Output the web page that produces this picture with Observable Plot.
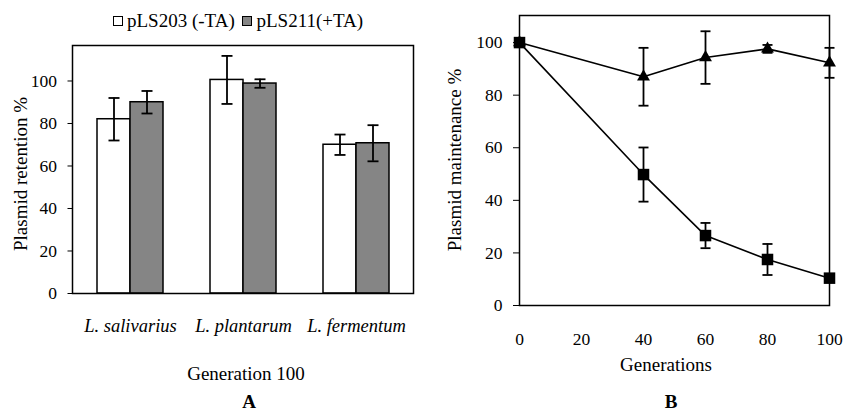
<!DOCTYPE html>
<html>
<head>
<meta charset="utf-8">
<script src="https://cdn.jsdelivr.net/npm/d3@7"></script>
<script src="https://cdn.jsdelivr.net/npm/@observablehq/plot@0.6"></script>
<style>
  html, body { margin: 0; padding: 0; background: #fff; }
  #wrap { position: relative; width: 844px; height: 411px; font-family: "Liberation Serif", "Times New Roman", serif; color: #000; overflow: hidden; }
  #pa, #pb { position: absolute; top: 0; }
  #pa { left: 0; }
  #pb { left: 425px; }
  #pa svg text, #pb svg text { font-family: "Liberation Serif", "Times New Roman", serif !important; font-size: 17.5px !important; fill: #000; }
  #pa [aria-label^="x-axis"] text { font-style: italic; font-size: 18.5px !important; }
  .lbl { position: absolute; font-size: 19px; white-space: nowrap; transform: translate(-50%, -50%); line-height: 1; }
  .rot { transform: translate(-50%, -50%) rotate(-90deg); }
  .big { font-weight: bold; }
  #legend { position: absolute; left: 113px; top: 11px; font-size: 19px; line-height: 20px; white-space: nowrap; }
  .sw { display: inline-block; width: 8px; height: 8px; border: 1px solid #000; margin-right: 4px; vertical-align: 1px; }
</style>
</head>
<body>
<div id="wrap">
  <div id="pa"></div>
  <div id="pb"></div>
  <div id="legend"><span class="sw" style="background:#fff"></span>pLS203 (-TA) <span class="sw" style="background:#858585;margin-left:3px"></span>pLS211(+TA)</div>
  <div class="lbl rot" style="left:20px; top:174px;">Plasmid retention %</div>
  <div class="lbl" style="left:246px; top:373px;">Generation 100</div>
  <div class="lbl big" style="left:249px; top:401px;">A</div>
  <div class="lbl rot" style="left:454px; top:160px;">Plasmid maintenance %</div>
  <div class="lbl" style="left:666px; top:364px;">Generations</div>
  <div class="lbl big" style="left:671px; top:401px;">B</div>
</div>
<script>
// ---- Panel A data ----
const categories = ["L. salivarius", "L. plantarum", "L. fermentum"];
const seriesA = ["pLS203 (-TA)", "pLS211(+TA)"];
const retentionMinusTA = [82, 100.5, 70];
const retentionMinusTAErr = [10, 11.3, 4.8];
const retentionPlusTA = [90, 98.8, 70.7];
const retentionPlusTAErr = [5.3, 2, 8.5];
const yTicksA = [0, 20, 40, 60, 80, 100];

// ---- Panel B data ----
const generations = [0, 40, 60, 80, 100];
const maintPlusTA = [100, 87, 94.3, 97.6, 92.3];
const maintPlusTAErr = [0, 11, 10, 1.5, 5.7];
const maintMinusTA = [100, 49.8, 26.6, 17.5, 10.4];
const maintMinusTAErr = [0, 10.3, 4.8, 5.9, 0];
const xTicksB = [0, 20, 40, 60, 80, 100];
const yTicksB = [0, 20, 40, 60, 80, 100];

const capSymbol = {
  draw(context, size) {
    const w = Math.sqrt(size / Math.PI);
    context.moveTo(-w, 0);
    context.lineTo(w, 0);
  }
};

const baseStyle = {fontFamily: "Liberation Serif, Times New Roman, serif", fontSize: "17.5px", color: "#000", background: "transparent", overflow: "visible"};
const ew = 1.8;

// Panel A
const rowsA = [];
categories.forEach((c, i) => {
  rowsA.push({cat: c, series: seriesA[0], v: retentionMinusTA[i], e: retentionMinusTAErr[i]});
  rowsA.push({cat: c, series: seriesA[1], v: retentionPlusTA[i], e: retentionPlusTAErr[i]});
});
const whiteRows = rowsA.filter(d => d.series === seriesA[0]);
const greyRows = rowsA.filter(d => d.series === seriesA[1]);
const half = 33;
const off = 16.5;

const plotA = Plot.plot({
  width: 425, height: 411,
  marginLeft: 72, marginRight: 12, marginTop: 45, marginBottom: 118,
  style: baseStyle,
  x: {domain: categories, paddingInner: 0.42, paddingOuter: 0.21, tickSize: 0, tickPadding: 25, label: null},
  y: {domain: [0, 116.7], ticks: yTicksA, tickSize: 4.5, tickPadding: 11, label: null},
  marks: [
    Plot.barY(whiteRows, {x: "cat", y: "v", fill: "#fff", stroke: "#000", strokeWidth: 1.5, insetRight: half}),
    Plot.barY(greyRows, {x: "cat", y: "v", fill: "#858585", stroke: "#000", strokeWidth: 1.5, insetLeft: half}),
    Plot.ruleX(whiteRows, {x: "cat", y1: d => d.v - d.e, y2: d => d.v + d.e, dx: -off, stroke: "#000", strokeWidth: ew}),
    Plot.ruleX(greyRows, {x: "cat", y1: d => d.v - d.e, y2: d => d.v + d.e, dx: off, stroke: "#000", strokeWidth: ew}),
    Plot.dot(whiteRows, {x: "cat", y: d => d.v + d.e, dx: -off, symbol: capSymbol, r: 5.5, stroke: "#000", strokeWidth: ew, fill: "none"}),
    Plot.dot(whiteRows, {x: "cat", y: d => d.v - d.e, dx: -off, symbol: capSymbol, r: 5.5, stroke: "#000", strokeWidth: ew, fill: "none"}),
    Plot.dot(greyRows, {x: "cat", y: d => d.v + d.e, dx: off, symbol: capSymbol, r: 5.5, stroke: "#000", strokeWidth: ew, fill: "none"}),
    Plot.dot(greyRows, {x: "cat", y: d => d.v - d.e, dx: off, symbol: capSymbol, r: 5.5, stroke: "#000", strokeWidth: ew, fill: "none"}),
    Plot.frame({stroke: "#000", strokeWidth: 1.5})
  ]
});
document.getElementById("pa").appendChild(plotA);

// Panel B
const plus = generations.map((g, i) => ({g, v: maintPlusTA[i], e: maintPlusTAErr[i]}));
const minus = generations.map((g, i) => ({g, v: maintMinusTA[i], e: maintMinusTAErr[i]}));
const plusE = plus.filter(d => d.e > 0);
const minusE = minus.filter(d => d.e > 0);
const errMarks = (rows) => [
  Plot.ruleX(rows, {x: "g", y1: d => d.v - d.e, y2: d => d.v + d.e, stroke: "#000", strokeWidth: ew}),
  Plot.dot(rows, {x: "g", y: d => d.v + d.e, symbol: capSymbol, r: 5, stroke: "#000", strokeWidth: ew, fill: "none"}),
  Plot.dot(rows, {x: "g", y: d => d.v - d.e, symbol: capSymbol, r: 5, stroke: "#000", strokeWidth: ew, fill: "none"})
];

const plotB = Plot.plot({
  width: 419, height: 411,
  marginLeft: 94, marginRight: 15, marginTop: 15, marginBottom: 106,
  style: baseStyle,
  x: {domain: [0, 100], ticks: xTicksB, tickSize: 0, tickPadding: 27, label: null},
  y: {domain: [0, 110.3], ticks: yTicksB, tickSize: 6, tickPadding: 11, label: null},
  marks: [
    ...errMarks(plusE),
    ...errMarks(minusE),
    Plot.line(plus, {x: "g", y: "v", stroke: "#000", strokeWidth: 1.6}),
    Plot.line(minus, {x: "g", y: "v", stroke: "#000", strokeWidth: 1.6}),
    Plot.dot(plus, {x: "g", y: "v", symbol: "triangle", r: 4.8, fill: "#000", stroke: "none"}),
    Plot.dot(minus, {x: "g", y: "v", symbol: "square", r: 6.5, fill: "#000", stroke: "none"}),
    Plot.frame({stroke: "#000", strokeWidth: 1.5})
  ]
});
document.getElementById("pb").appendChild(plotB);
</script>
</body>
</html>
